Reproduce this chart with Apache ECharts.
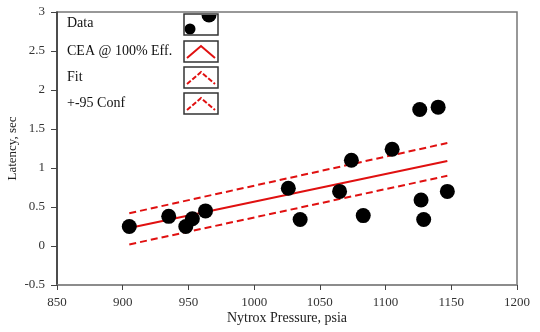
<!DOCTYPE html>
<html>
<head>
<meta charset="utf-8">
<script src="https://cdn.jsdelivr.net/npm/echarts@6/dist/echarts.min.js"></script>
<style>html,body{margin:0;padding:0;background:#fff;}#c{width:540px;height:332px;}</style>
</head>
<body>
<div id="c"></div>
<script>
// Data points
const pressure = [905, 935, 948, 953, 963, 1026, 1035, 1065, 1074, 1083, 1105, 1126, 1127, 1129, 1140, 1147];
const latency  = [0.25, 0.38, 0.25, 0.35, 0.45, 0.74, 0.34, 0.70, 1.10, 0.39, 1.24, 1.75, 0.59, 0.34, 1.78, 0.70];
// Fit line and 95% confidence bands
const fitX = [905, 1147];
const fitY = [0.23, 1.09];
const upperY = [0.42, 1.32];
const lowerY = [0.02, 0.90];
// Axis ticks
const xTicks = { min: 850, max: 1200, interval: 50 };
const yTicks = { min: -0.5, max: 3, interval: 0.5 };
const legendNames = ['Data', 'CEA @ 100% Eff.', 'Fit', '+-95 Conf'];

const FONT = 'Liberation Serif';
const RED = '#e01010';
const pairs = (xs, ys) => xs.map((x, i) => [x, ys[i]]);

const chart = echarts.init(document.getElementById('c'), null, { renderer: 'canvas' });

// legend drawing (decorative)
const legendGraphics = [];
const rowY = [14, 41, 67, 93];
const textMid = [23, 51, 77, 103];
const boxX = 184, boxW = 34, boxH = 21;
legendNames.forEach((name, i) => {
  const y = rowY[i];
  legendGraphics.push({
    type: 'text', z: 10,
    style: { text: name, x: 67, y: textMid[i], verticalAlign: 'middle', font: '14px "' + FONT + '"', fill: '#111' }
  });
  legendGraphics.push({
    type: 'rect', shape: { x: boxX, y: y, width: boxW, height: boxH }, z: 10,
    style: { fill: '#fff', stroke: null }
  });
  if (i === 0) {
    legendGraphics.push({
      type: 'circle', z: 11,
      shape: { cx: boxX + 6, cy: y + 15, r: 5.5 },
      style: { fill: '#000' }
    });
    legendGraphics.push({
      type: 'sector', z: 11,
      shape: { cx: boxX + 25, cy: y + 1, r: 7.5, r0: 0, startAngle: 0, endAngle: Math.PI },
      style: { fill: '#000' }
    });
  } else {
    legendGraphics.push({
      type: 'polyline', z: 11,
      shape: { points: [[boxX + 3, y + boxH - 4], [boxX + boxW / 2, y + 5], [boxX + boxW - 3, y + boxH - 4]] },
      style: { stroke: RED, lineWidth: 2, fill: null, lineDash: i === 1 ? null : [5, 2] }
    });
  }
  legendGraphics.push({
    type: 'rect', shape: { x: boxX, y: y, width: boxW, height: boxH }, z: 12,
    style: { fill: null, stroke: '#333', lineWidth: 1.5 }
  });
});

const plainNum = v => String(v);

const option = {
  animation: false,
  backgroundColor: '#fff',
  grid: { left: 57, right: 23, top: 12, bottom: 47, show: true, borderColor: '#777', borderWidth: 1.5,
          containLabel: false, outerBoundsMode: 'none' },
  xAxis: {
    type: 'value', min: xTicks.min, max: xTicks.max, interval: xTicks.interval,
    name: 'Nytrox Pressure, psia', nameLocation: 'middle', nameGap: 26, nameMoveOverlap: false,
    nameTextStyle: { fontFamily: FONT, fontSize: 14, color: '#222' },
    axisLine: { show: true, onZero: false, lineStyle: { color: '#888', width: 1.5 } },
    axisTick: { show: true, length: 5, lineStyle: { color: '#444' } },
    axisLabel: { fontFamily: FONT, fontSize: 13, color: '#333', margin: 11, formatter: plainNum },
    splitLine: { show: false }
  },
  yAxis: {
    type: 'value', min: yTicks.min, max: yTicks.max, interval: yTicks.interval,
    name: 'Latency, sec', nameLocation: 'middle', nameGap: 38, nameMoveOverlap: false,
    nameTextStyle: { fontFamily: FONT, fontSize: 13, color: '#222' },
    axisLine: { show: true, onZero: false, lineStyle: { color: '#333', width: 1.5 } },
    axisTick: { show: true, length: 6, lineStyle: { color: '#444' } },
    axisLabel: { fontFamily: FONT, fontSize: 13, color: '#333', margin: 12, formatter: plainNum },
    splitLine: { show: false }
  },
  graphic: legendGraphics,
  series: [
    {
      name: '+-95 Conf', type: 'line', data: pairs(fitX, upperY), symbol: 'none',
      lineStyle: { color: RED, width: 2, type: [7, 4] }
    },
    {
      name: '+-95 Conf lower', type: 'line', data: pairs(fitX, lowerY), symbol: 'none',
      lineStyle: { color: RED, width: 2, type: [7, 4] }
    },
    {
      name: 'Fit', type: 'line', data: pairs(fitX, fitY), symbol: 'none',
      lineStyle: { color: RED, width: 2 }
    },
    {
      name: 'Data', type: 'scatter', data: pairs(pressure, latency), symbol: 'circle', symbolSize: 15,
      itemStyle: { color: '#000', opacity: 1 }, z: 5
    }
  ]
};
chart.setOption(option);
</script>
</body>
</html>
